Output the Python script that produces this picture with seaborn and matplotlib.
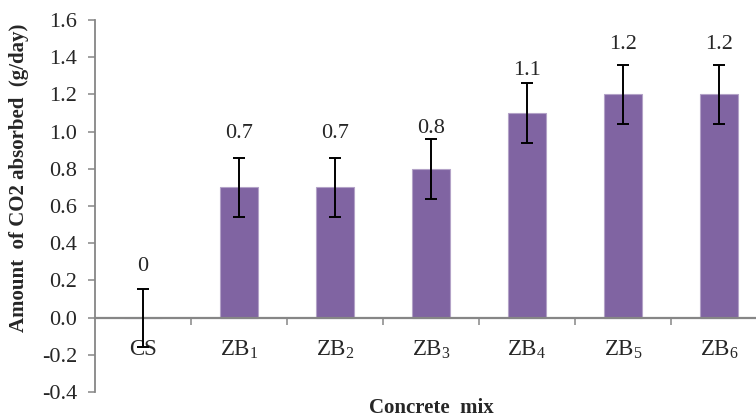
import matplotlib
matplotlib.use("Agg")
import matplotlib.pyplot as plt
from matplotlib.ticker import FixedLocator, FormatStrFormatter
import seaborn as sns
import pandas as pd

# Data: daily CO2 uptake per concrete mix
mixes = ["CS", "ZB$_1$", "ZB$_2$", "ZB$_3$", "ZB$_4$", "ZB$_5$", "ZB$_6$"]
absorbed = [0.0, 0.7, 0.7, 0.8, 1.1, 1.2, 1.2]
errors = [0.156, 0.16, 0.16, 0.16, 0.16, 0.16, 0.16]
y_ticks = [-0.4, -0.2, 0.0, 0.2, 0.4, 0.6, 0.8, 1.0, 1.2, 1.4, 1.6]

# Gap (points) between each error-bar cap and its value label
label_gap = [13, 14.4, 14.4, 4.3, 5.8, 11.5, 11.5]

sns.set_style("white")
plt.rcParams["font.family"] = ["Liberation Serif", "DejaVu Serif"]
plt.rcParams["mathtext.fontset"] = "custom"
plt.rcParams["mathtext.rm"] = "Liberation Serif"
plt.rcParams["mathtext.it"] = "Liberation Serif:italic"
plt.rcParams["axes.unicode_minus"] = False

W, H = 756, 419
fig = plt.figure(figsize=(W / 100, H / 100), dpi=100)
ax = fig.add_axes([95 / W, (H - 392) / H, 672 / W, 372 / H])

df = pd.DataFrame({"mix": mixes, "absorbed": absorbed})
sns.barplot(data=df, x="mix", y="absorbed", color="#8064A2", saturation=1,
            width=0.4, edgecolor="#B3A2C7", linewidth=0.8, ax=ax)

pos = list(range(len(mixes)))
ax.errorbar(pos, absorbed, yerr=errors, fmt="none", ecolor="black",
            elinewidth=1.4, capsize=4.5, capthick=1.4, zorder=5)

for x, v, e, g in zip(pos, absorbed, errors, label_gap):
    ax.annotate(f"{v:g}", xy=(x, v + e), xytext=(0, g), textcoords="offset points",
                ha="center", va="baseline", fontsize=16)

ax.set_xlim(-0.5, len(mixes) - 0.5)
ax.set_ylim(-0.4, 1.6)
ax.yaxis.set_major_locator(FixedLocator(y_ticks))
ax.yaxis.set_major_formatter(FormatStrFormatter("%.1f"))

spine_c = "#868686"
for side in ("top", "right"):
    ax.spines[side].set_visible(False)
ax.spines["left"].set_color(spine_c)
ax.spines["left"].set_linewidth(1.3)
ax.spines["bottom"].set_color(spine_c)
ax.spines["bottom"].set_linewidth(1.6)
ax.spines["bottom"].set_position(("data", 0))

ax.tick_params(axis="y", which="major", direction="out", length=5, width=1.1,
               color=spine_c, labelsize=16, pad=8, left=True)
ax.tick_params(axis="x", which="major", length=0, labelsize=16.5, pad=15.5)
ax.set_xticks([p + 0.5 for p in pos[:-1]], minor=True)
ax.tick_params(axis="x", which="minor", direction="out", length=5, width=1.1,
               color=spine_c, bottom=True)

ax.set_ylabel("")
ax.set_xlabel("Concrete  mix", fontsize=15, fontweight="bold", va="top")
ax.xaxis.set_label_coords(0.5, -6 / 372)

fig.text(19 / W, 1 - 178 / H, "Amount  of CO2 absorbed  (g/day)", rotation=90,
         ha="center", va="center", fontsize=15, fontweight="bold")

fig.savefig("out.png", dpi=100)
